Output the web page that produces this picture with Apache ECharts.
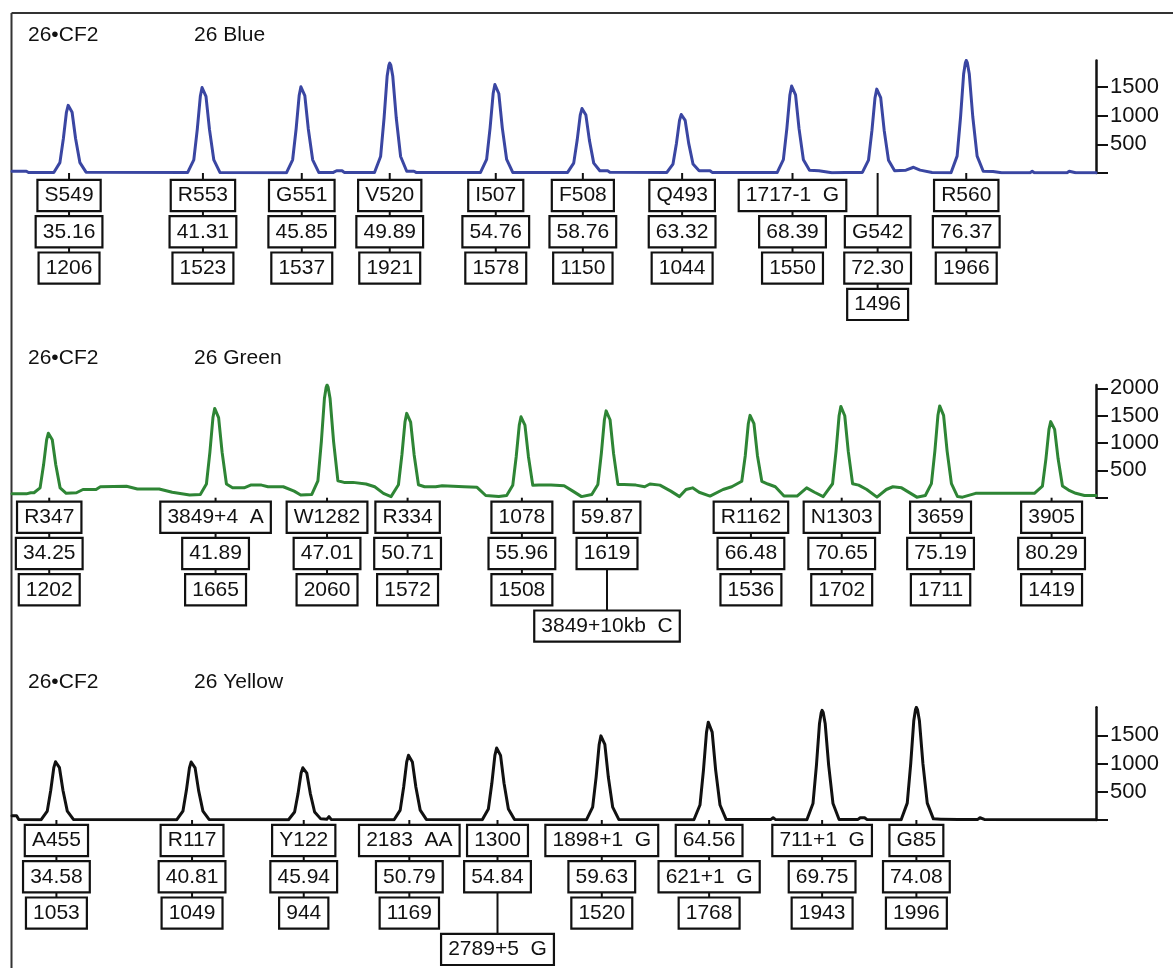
<!DOCTYPE html>
<html>
<head>
<meta charset="utf-8">
<title>26•CF2</title>
<script src="https://cdn.jsdelivr.net/npm/echarts@6/dist/echarts.min.js"></script>
<style>
  html, body { margin: 0; padding: 0; background: #fff; }
  #chart { width: 1173px; height: 968px; }
</style>
</head>
<body>
<div id="chart"></div>
<script>
var blueSizes = [35.16, 41.31, 45.85, 49.89, 54.76, 58.76, 63.32, 68.39, 72.30, 76.37];
var blueHeights = [1206, 1523, 1537, 1921, 1578, 1150, 1044, 1550, 1496, 1966];
var blueNames = ['S549', 'R553', 'G551', 'V520', 'I507', 'F508', 'Q493', '1717-1  G', 'G542', 'R560'];
// row order of the boxes under each peak: n = name, s = size, h = height, - = empty
var blueOrder = ['nsh', 'nsh', 'nsh', 'nsh', 'nsh', 'nsh', 'nsh', 'nsh', '-nsh', 'nsh'];

var greenSizes = [34.25, 41.89, 47.01, 50.71, 55.96, 59.87, 66.48, 70.65, 75.19, 80.29];
var greenHeights = [1202, 1665, 2060, 1572, 1508, 1619, 1536, 1702, 1711, 1419];
var greenNames = ['R347', '3849+4  A', 'W1282', 'R334', '1078', '3849+10kb  C', 'R1162', 'N1303', '3659', '3905'];
var greenOrder = ['nsh', 'nsh', 'nsh', 'nsh', 'nsh', 'sh-n', 'nsh', 'nsh', 'nsh', 'nsh'];

var yellowSizes = [34.58, 40.81, 45.94, 50.79, 54.84, 59.63, 64.56, 69.75, 74.08];
var yellowHeights = [1053, 1049, 944, 1169, 1300, 1520, 1768, 1943, 1996];
var yellowNames = ['A455', 'R117', 'Y122', '2183  AA', '2789+5  G', '1898+1  G', '621+1  G', '711+1  G', 'G85'];
var yellowOrder = ['nsh', 'nsh', 'nsh', 'nsh', 'hs-n', 'nsh', 'snh', 'nsh', 'nsh'];

// traces [bp, rfu]
var blueTrace = [
  [32.54,30],[33.2,30],[33.3,8],
  [34.46,10],[34.74,181],[34.90,603],[35.04,1061],[35.12,1182],[35.16,1206],[35.21,1182],[35.30,1061],[35.46,603],[35.66,181],[35.94,15],
  [40.61,10],[40.89,228],[41.05,762],[41.19,1340],[41.27,1493],[41.31,1523],[41.36,1493],[41.45,1340],[41.61,762],[41.81,228],[42.09,10],
  [45.15,5],[45.43,231],[45.59,769],[45.73,1353],[45.81,1506],[45.85,1537],[45.90,1506],[45.99,1353],[46.15,769],[46.35,231],[46.63,10],
  [47.3,10],[47.45,40],[47.7,40],[47.8,10],
  [49.19,10],[49.47,288],[49.63,961],[49.77,1690],[49.85,1883],[49.89,1921],[49.94,1883],[50.03,1690],[50.19,961],[50.39,288],[50.67,30],
  [51.0,30],[51.1,10],
  [54.06,10],[54.34,237],[54.50,789],[54.64,1389],[54.72,1546],[54.76,1578],[54.81,1546],[54.90,1389],[55.06,789],[55.26,237],[55.54,10],
  [58.06,10],[58.34,173],[58.50,575],[58.64,1012],[58.72,1127],[58.76,1150],[58.81,1127],[58.90,1012],[59.06,575],[59.26,173],[59.54,40],
  [59.9,40],[60.0,15],
  [62.62,10],[62.90,157],[63.06,522],[63.20,919],[63.28,1023],[63.32,1044],[63.37,1023],[63.46,919],[63.62,522],[63.82,157],[64.10,40],
  [64.6,40],[64.7,10],
  [67.69,10],[67.97,233],[68.13,775],[68.27,1364],[68.35,1519],[68.39,1550],[68.44,1519],[68.53,1364],[68.69,775],[68.89,233],[69.17,50],
  [69.6,40],[70.2,5],[70.8,10],
  [71.60,10],[71.88,224],[72.04,748],[72.18,1316],[72.26,1466],[72.30,1496],[72.35,1466],[72.44,1316],[72.60,748],[72.80,224],[73.08,40],
  [73.6,50],[73.95,100],[74.25,50],[74.8,10],
  [75.67,5],[75.95,295],[76.11,983],[76.25,1730],[76.33,1927],[76.37,1966],[76.42,1927],[76.51,1730],[76.67,983],[76.87,295],[77.15,30],
  [77.6,25],[78.0,5],[79.3,5],[79.4,30],[79.5,5],[81.0,5],[81.1,30],[81.4,5],[82.33,5]
];

var greenTrace = [
  [32.54,70],[33.2,70],[33.4,90],
  [33.55,90],[33.83,180],[33.99,601],[34.13,1058],[34.21,1178],[34.25,1202],[34.30,1178],[34.39,1058],[34.55,601],[34.75,180],[35.03,80],
  [35.5,90],[35.8,150],[36.4,150],[36.6,200],[37.8,210],[38.3,160],[39.3,160],[39.9,100],[40.7,50],
  [41.19,60],[41.47,250],[41.63,833],[41.77,1465],[41.85,1632],[41.89,1665],[41.94,1632],[42.03,1465],[42.19,833],[42.39,250],[42.67,180],
  [43.2,180],[43.5,230],[44.0,230],[44.3,200],[45.0,200],[45.5,120],[45.8,50],
  [46.31,60],[46.59,309],[46.75,1030],[46.89,1813],[46.97,2019],[47.01,2060],[47.06,2019],[47.15,1813],[47.31,1030],[47.51,309],[47.79,280],
  [48.2,280],[48.8,250],[49.2,200],[49.6,80],[49.95,20],
  [50.29,236],[50.45,786],[50.59,1383],[50.67,1541],[50.71,1572],[50.76,1541],[50.85,1383],[51.01,786],[51.21,236],[51.49,200],
  [52.0,200],[52.3,220],[53.3,200],[53.9,190],[54.3,40],[54.9,20],
  [55.26,40],[55.54,226],[55.70,754],[55.84,1327],[55.92,1478],[55.96,1508],[56.01,1478],[56.10,1327],[56.26,754],[56.46,226],[56.74,230],
  [57.3,230],[57.9,220],[58.3,120],[58.7,20],
  [59.17,60],[59.45,243],[59.61,810],[59.75,1425],[59.83,1587],[59.87,1619],[59.92,1587],[60.01,1425],[60.17,810],[60.37,243],[60.65,240],
  [61.2,230],[61.6,200],[61.84,250],[62.3,230],[62.8,120],[63.2,20],[63.5,150],[63.8,180],[64.1,100],[64.6,30],[65.2,150],[65.6,200],
  [66.06,300],[66.22,768],[66.36,1352],[66.44,1505],[66.48,1536],[66.53,1505],[66.62,1352],[66.78,768],[66.98,300],[67.26,250],
  [67.6,200],[68.0,30],[68.6,30],[69.04,180],[69.4,100],[69.8,20],
  [70.23,255],[70.39,851],[70.53,1498],[70.61,1668],[70.65,1702],[70.70,1668],[70.79,1498],[70.95,851],[71.15,255],[71.43,230],
  [71.8,150],[72.27,10],[72.7,150],[73.0,200],[73.4,180],[74.1,10],
  [74.49,40],[74.77,257],[74.93,856],[75.07,1506],[75.15,1677],[75.19,1711],[75.24,1677],[75.33,1506],[75.49,856],[75.69,257],[75.97,20],
  [76.2,10],[76.8,80],[79.5,80],
  [79.87,213],[80.03,710],[80.17,1249],[80.25,1391],[80.29,1419],[80.34,1391],[80.43,1249],[80.59,710],[80.79,213],[81.07,140],
  [81.4,80],[81.8,40],[82.33,40]
];

var yellowTrace = [
  [32.54,75],[32.75,75],[32.85,10],
  [33.88,5],[34.16,158],[34.32,527],[34.46,927],[34.54,1032],[34.58,1053],[34.63,1032],[34.72,927],[34.88,527],[35.08,158],[35.36,10],
  [40.11,5],[40.39,157],[40.55,525],[40.69,923],[40.77,1028],[40.81,1049],[40.86,1028],[40.95,923],[41.11,525],[41.31,157],[41.59,10],
  [45.24,5],[45.52,142],[45.68,472],[45.82,831],[45.90,925],[45.94,944],[45.99,925],[46.08,831],[46.24,472],[46.44,142],[46.72,20],
  [47.0,15],[47.1,60],[47.2,10],
  [50.09,5],[50.37,175],[50.53,585],[50.67,1029],[50.75,1146],[50.79,1169],[50.84,1146],[50.93,1029],[51.09,585],[51.29,175],[51.57,10],
  [54.14,5],[54.42,195],[54.58,650],[54.72,1144],[54.80,1274],[54.84,1300],[54.89,1274],[54.98,1144],[55.14,650],[55.34,195],[55.62,10],
  [58.93,5],[59.21,228],[59.37,760],[59.51,1338],[59.59,1490],[59.63,1520],[59.68,1490],[59.77,1338],[59.93,760],[60.13,228],[60.41,10],
  [63.86,5],[64.14,265],[64.30,884],[64.44,1556],[64.52,1733],[64.56,1768],[64.61,1733],[64.70,1556],[64.86,884],[65.06,265],[65.34,10],
  [67.4,10],[67.5,40],[67.6,10],
  [69.05,5],[69.33,291],[69.49,972],[69.63,1710],[69.71,1904],[69.75,1943],[69.80,1904],[69.89,1710],[70.05,972],[70.25,291],[70.53,10],
  [71.4,10],[71.5,40],[71.7,40],[71.8,10],
  [73.38,5],[73.66,299],[73.82,998],[73.96,1756],[74.04,1956],[74.08,1996],[74.13,1956],[74.22,1756],[74.38,998],[74.58,299],[74.86,20],
  [75.2,15],[76.0,10],[76.9,10],[77.0,40],[77.2,10],[82.33,5]
];

var FONT = '"Liberation Sans", Arial, Helvetica, sans-serif';
var ROW_GAP = 36.3;
var X_MIN = 32.54, X_MAX = 82.33;

var panels = [
  {label: '26 Blue', color: '#3a46a2', names: blueNames, sizes: blueSizes, heights: blueHeights,
   order: blueOrder, trace: blueTrace, top: 60.5, base: 173, rowOffset: 22.5, titleY: 23},
  {label: '26 Green', color: '#2e8535', names: greenNames, sizes: greenSizes, heights: greenHeights,
   order: greenOrder, trace: greenTrace, top: 385, base: 497.7, rowOffset: 19.5, titleY: 346},
  {label: '26 Yellow', color: '#111111', names: yellowNames, sizes: yellowSizes, heights: yellowHeights,
   order: yellowOrder, trace: yellowTrace, top: 707.3, base: 820, rowOffset: 20.5, titleY: 670}
];

function buildBoxes(p) {
  var boxes = [], stems = [];
  p.names.forEach(function (name, i) {
    var order = p.order[i], last = 0;
    for (var r = 0; r < order.length; r++) {
      var c = order.charAt(r), text = null;
      if (c === 'n') text = name;
      else if (c === 's') text = p.sizes[i].toFixed(2);
      else if (c === 'h') text = String(p.heights[i]);
      if (text !== null) { boxes.push([p.sizes[i], r, text]); last = r; }
    }
    stems.push([p.sizes[i], last]);
  });
  return {boxes: boxes, stems: stems};
}

var grids = [], xAxes = [], yAxes = [], series = [], titles = [];

panels.forEach(function (p, i) {
  var yMax = Math.max.apply(null, p.heights);
  var ticks = [], labels = [];
  for (var v = 0; v <= yMax; v += 500) {
    ticks.push(v);
    if (v > 0) labels.push(v);
  }
  var lay = buildBoxes(p);

  grids.push({left: 12, right: 77, top: p.top, height: p.base - p.top, outerBoundsMode: 'none'});
  xAxes.push({type: 'value', gridIndex: i, min: X_MIN, max: X_MAX, show: false});
  yAxes.push({
    type: 'value', gridIndex: i, position: 'right', min: 0, max: yMax,
    splitLine: {show: false},
    axisLine: {show: true, lineStyle: {color: '#111', width: 2.5}},
    axisTick: {show: true, customValues: ticks, length: 12, lineStyle: {color: '#111', width: 2}},
    axisLabel: {
      show: true, customValues: labels, margin: 14, color: '#111', fontSize: 22, fontFamily: FONT,
      formatter: function (val) { return String(val); }
    }
  });

  titles.push({text: '26•CF2', left: 28, top: p.titleY, padding: 0,
    textStyle: {fontSize: 21, fontWeight: 'normal', color: '#111', fontFamily: FONT, lineHeight: 24}});
  titles.push({text: p.label, left: 194, top: p.titleY, padding: 0,
    textStyle: {fontSize: 21, fontWeight: 'normal', color: '#111', fontFamily: FONT, lineHeight: 24}});

  series.push({
    type: 'line', xAxisIndex: i, yAxisIndex: i, data: p.trace,
    symbol: 'none', z: 3,
    lineStyle: {color: p.color, width: 3, join: 'round', cap: 'round'}
  });

  // stems from the baseline down to the last box of each peak
  series.push({
    type: 'custom', xAxisIndex: i, yAxisIndex: i, z: 2,
    data: lay.stems,
    renderItem: function (params, api) {
      var s = lay.stems[params.dataIndex];
      var pt = api.coord([s[0], 0]);
      return {
        type: 'line',
        shape: {x1: pt[0], y1: pt[1], x2: pt[0], y2: pt[1] + p.rowOffset + s[1] * ROW_GAP},
        style: {stroke: '#111', lineWidth: 2}
      };
    }
  });

  // label boxes
  series.push({
    type: 'custom', xAxisIndex: i, yAxisIndex: i, z: 4,
    data: lay.boxes.map(function (b) { return [b[0], b[1]]; }),
    renderItem: function (params, api) {
      var b = lay.boxes[params.dataIndex];
      var pt = api.coord([b[0], 0]);
      return {
        type: 'text',
        x: pt[0],
        y: pt[1] + p.rowOffset + b[1] * ROW_GAP,
        style: {
          text: b[2], align: 'center', verticalAlign: 'middle',
          fontSize: 21, fontFamily: FONT, fill: '#111', lineHeight: 22,
          backgroundColor: '#fff', borderColor: '#111', borderWidth: 2.2,
          padding: [4, 6, 3, 6]
        }
      };
    }
  });
});

var chart = echarts.init(document.getElementById('chart'), null, {renderer: 'canvas'});
chart.setOption({
  backgroundColor: '#fff',
  animation: false,
  title: titles,
  grid: grids,
  xAxis: xAxes,
  yAxis: yAxes,
  series: series,
  graphic: [
    {type: 'line', shape: {x1: 11.5, y1: 13, x2: 1173, y2: 13}, style: {stroke: '#333', lineWidth: 2}},
    {type: 'line', shape: {x1: 11.5, y1: 13, x2: 11.5, y2: 968}, style: {stroke: '#333', lineWidth: 2}}
  ]
});
</script>
</body>
</html>
